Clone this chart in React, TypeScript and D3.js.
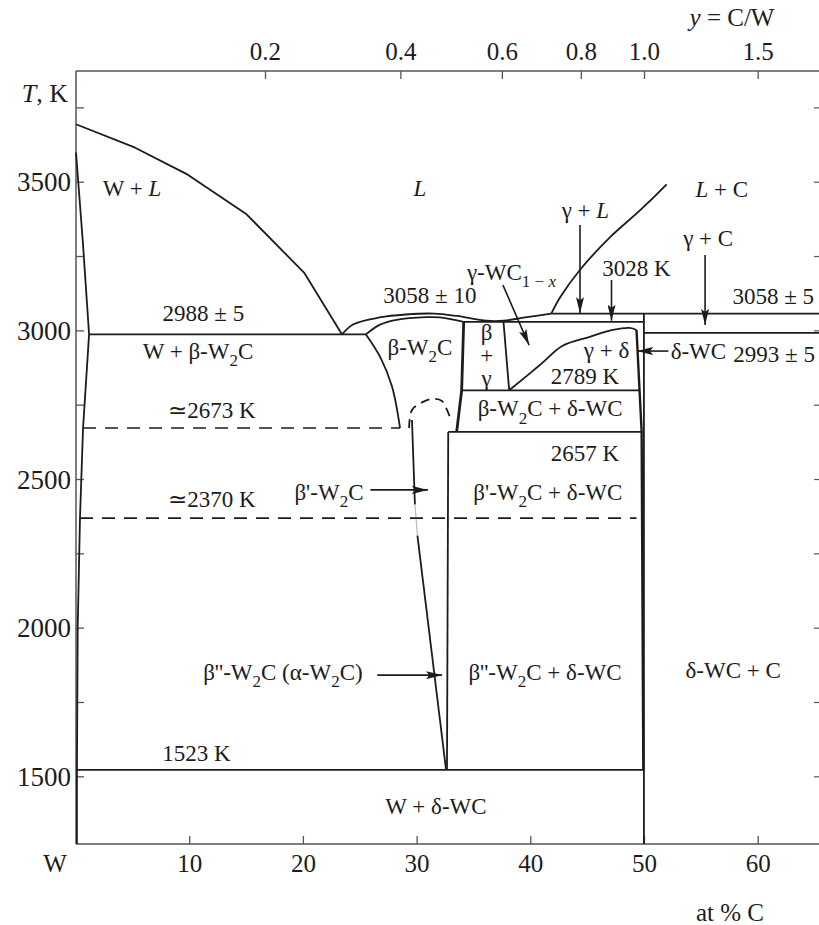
import React from "react";
import * as d3 from "d3";

const W = 819;
const H = 925;

// composition (at % C) and temperature (K) extents of the frame
const C_MIN = 0;
const C_MAX = 65.35;
const T_MIN = 1274;
const T_MAX = 3874;

const tempMajor = [1500, 2000, 2500, 3000, 3500];
const tempMinor = [1750, 2250, 2750, 3250, 3750];
const tempRight = [1500, 1750, 2000, 2250, 2500, 2750, 3000, 3250, 3500, 3750];
const compTicks = [10, 20, 30, 40, 50, 60];
const ratioTicks = [0.2, 0.4, 0.6, 0.8, 1.0, 1.5];
const ratioLabels = ["0.2", "0.4", "0.6", "0.8", "1.0", "1.5"];

type P = [number, number];

// phase boundaries [at % C, T]
const liquidusW: P[] = [[0, 3695], [5.2, 3616], [9.7, 3528], [15, 3392], [20.1, 3194], [23.4, 2988]];
const solidusW: P[] = [[0, 3600], [0.6, 3300], [1.15, 2988], [0.62, 2673], [0.35, 2370], [0.15, 2000], [0.08, 1500], [0.08, 1274]];
const liquidusMid: P[] = [[23.4, 2988], [24.4, 3022], [26.7, 3045], [29, 3055], [31.5, 3058], [33.5, 3050], [36.1, 3034], [37.6, 3034], [39.5, 3045], [41.8, 3058]];
const liquidusC: P[] = [[41.8, 3058], [42.6, 3114], [44.3, 3204], [47, 3316], [49.6, 3405], [51.95, 3493]];
const solidusW2C: P[] = [[25.5, 2988], [26.7, 3020], [28.2, 3037], [30.8, 3046], [32, 3045], [34.1, 3030]];
const w2cLeft: P[] = [[25.5, 2988], [26.74, 2913], [27.8, 2812], [28.5, 2673]];
const w2cRight: P[] = [[34.1, 3030], [33.92, 2800], [33.48, 2660]];
const betaGammaRight: P[] = [[37.6, 3030], [38.1, 2800]];
const gammaDelta: P[] = [[38.1, 2800], [40.8, 2885], [42.8, 2950], [45.2, 2980], [47.2, 3003], [48.7, 3010], [49.3, 3003]];
const deltaLeft: P[] = [[49.3, 3003], [49.75, 2660], [49.9, 1523]];
const deltaRight: P[] = [[49.95, 3058], [49.95, 1274]];
const betaPrimeLeft: P[] = [[29.55, 2700], [29.81, 2416]];
const betaPrimeGap: P[] = [[29.81, 2416], [30.03, 2311]];
const betaDoubleLeft: P[] = [[30.03, 2311], [32.55, 1523]];
const betaPrimeRight: P[] = [[32.74, 2660], [32.63, 1523]];
const dome: P[] = [[29.3, 2673], [29.55, 2734], [30.52, 2761], [31.4, 2771], [32.19, 2764], [32.63, 2734], [33.04, 2693]];

// invariant lines: temperature, from, to
const isotherms = [
  { t: 2988, from: 1.15, to: 25.5 },
  { t: 3058, from: 41.8, to: C_MAX },
  { t: 3030, from: 34.1, to: 49.95 },
  { t: 2993, from: 49.95, to: C_MAX },
  { t: 2800, from: 33.92, to: 49.55 },
  { t: 2660, from: 32.74, to: 49.75 },
  { t: 1523, from: 0.08, to: 49.9 },
];
const dashedIsotherms = [
  { t: 2673, from: 0.62, to: 28.5 },
  { t: 2370, from: 0.35, to: 49.3 },
];

const arrows: { from: P; to: P }[] = [
  { from: [25.9, 2465], to: [30.95, 2465] },
  { from: [26.5, 1842], to: [32.2, 1842] },
  { from: [37.55, 3154], to: [39.85, 2952] },
  { from: [44.33, 3356], to: [44.33, 3059] },
  { from: [47.1, 3171], to: [47.1, 3034] },
  { from: [55.33, 3255], to: [55.33, 3020] },
  { from: [52.1, 2932], to: [49.35, 2932] },
];

// _x / _{..} = subscript, *..* = italic
const labels: { text: string; c: number; t: number; anchor?: string }[] = [
  { text: "W + *L*", c: 4.93, t: 3480 },
  { text: "*L*", c: 30.25, t: 3480 },
  { text: "*L* + C", c: 56.8, t: 3478 },
  { text: "γ + *L*", c: 44.8, t: 3406 },
  { text: "γ + C", c: 55.6, t: 3311 },
  { text: "3028 K", c: 49.3, t: 3210 },
  { text: "3058 ± 5", c: 61.33, t: 3115 },
  { text: "γ-WC_{1 − *x*}", c: 38.3, t: 3198 },
  { text: "3058 ± 10", c: 31.13, t: 3120 },
  { text: "2988 ± 5", c: 11.2, t: 3058 },
  { text: "W + β-W_2C", c: 10.73, t: 2932 },
  { text: "β-W_2C", c: 30.25, t: 2946 },
  { text: "β", c: 36.12, t: 2996 },
  { text: "+", c: 36.12, t: 2917 },
  { text: "γ", c: 36.12, t: 2840 },
  { text: "γ + δ", c: 46.67, t: 2935 },
  { text: "δ-WC", c: 52.3, t: 2932, anchor: "start" },
  { text: "2993 ± 5", c: 61.4, t: 2922 },
  { text: "2789 K", c: 44.77, t: 2846 },
  { text: "β-W_2C + δ-WC", c: 41.7, t: 2739 },
  { text: "≃2673 K", c: 11.96, t: 2734 },
  { text: "2657 K", c: 44.77, t: 2590 },
  { text: "β'-W_2C", c: 22.25, t: 2458 },
  { text: "β'-W_2C + δ-WC", c: 41.5, t: 2458 },
  { text: "≃2370 K", c: 11.96, t: 2434 },
  { text: "β''-W_2C (α-W_2C)", c: 18.2, t: 1853 },
  { text: "β''-W_2C + δ-WC", c: 41.25, t: 1853 },
  { text: "δ-WC + C", c: 57.8, t: 1859 },
  { text: "1523 K", c: 10.6, t: 1579 },
  { text: "W + δ-WC", c: 31.66, t: 1402 },
];

const FONT = "'Liberation Serif', 'Times New Roman', serif";
const INK = "#1c1c1c";

type Seg = { s: string; sub: boolean; it: boolean };

function parse(text: string): Seg[] {
  const segs: Seg[] = [];
  let sub = false;
  let it = false;
  let buf = "";
  let subSingle = false;
  const flush = () => {
    if (buf) segs.push({ s: buf, sub, it });
    buf = "";
  };
  for (let i = 0; i < text.length; i++) {
    const ch = text[i];
    if (ch === "_") {
      flush();
      sub = true;
      if (text[i + 1] === "{") {
        i++;
        subSingle = false;
      } else subSingle = true;
      continue;
    }
    if (ch === "}" && sub && !subSingle) {
      flush();
      sub = false;
      continue;
    }
    if (ch === "*") {
      flush();
      it = !it;
      continue;
    }
    buf += ch;
    if (sub && subSingle) {
      flush();
      sub = false;
      subSingle = false;
    }
  }
  flush();
  return segs;
}

function RichText({ text, x, y, size, anchor = "middle" }: { text: string; x: number; y: number; size: number; anchor?: string }) {
  const segs = parse(text);
  let wasSub = false;
  const shift = size * 0.32;
  return (
    <text x={x} y={y + size * 0.34} fontSize={size} fontFamily={FONT} textAnchor={anchor} fill={INK}>
      {segs.map((g, i) => {
        let dy = 0;
        if (g.sub && !wasSub) dy = shift;
        if (!g.sub && wasSub) dy = -shift;
        wasSub = g.sub;
        return (
          <tspan key={i} dy={dy || undefined} fontSize={g.sub ? size * 0.74 : size} fontStyle={g.it ? "italic" : "normal"}>
            {g.s}
          </tspan>
        );
      })}
    </text>
  );
}

export default function App() {
  const x = d3.scaleLinear().domain([C_MIN, C_MAX]).range([76, W]);
  const y = d3.scaleLinear().domain([T_MIN, T_MAX]).range([844, 71]);

  const straight = d3.line<P>().x((d) => x(d[0])).y((d) => y(d[1]));
  const smooth = d3
    .line<P>()
    .x((d) => x(d[0]))
    .y((d) => y(d[1]))
    .curve(d3.curveCatmullRom.alpha(0.5));

  const ratioToC = (r: number) => (100 * r) / (1 + r);
  const frame = "#555";

  return (
    <svg width={W} height={H} style={{ position: "absolute", left: 0, top: 0, background: "#fff" }}>
      <defs>
        <marker id="head" viewBox="0 0 16 8" refX="16" refY="4" markerWidth="16" markerHeight="8" markerUnits="userSpaceOnUse" orient="auto">
          <path d="M0,0 L16,4 L0,8 L3,4 z" fill={INK} />
        </marker>
      </defs>

      {/* frame */}
      <line x1={x(0)} x2={W} y1={y(T_MAX)} y2={y(T_MAX)} stroke={frame} strokeWidth={1.5} />
      <line x1={x(0)} x2={W} y1={y(T_MIN)} y2={y(T_MIN)} stroke={frame} strokeWidth={1.5} />
      <line x1={x(0)} x2={x(0)} y1={y(T_MIN)} y2={y(T_MAX)} stroke={frame} strokeWidth={1.5} />

      {/* left axis */}
      {tempMajor.concat(tempMinor).map((t) => (
        <line key={"lt" + t} x1={x(0)} x2={x(0) + 8} y1={y(t)} y2={y(t)} stroke={frame} strokeWidth={1.3} />
      ))}
      {tempRight.map((t) => (
        <line key={"rt" + t} x1={W} x2={W - 5} y1={y(t)} y2={y(t)} stroke={frame} strokeWidth={1.2} />
      ))}
      {tempMajor.map((t) => (
        <text key={"ll" + t} x={71} y={y(t) + 9} fontSize={27} fontFamily={FONT} textAnchor="end" fill={INK}>
          {t}
        </text>
      ))}
      <text x={68} y={102} fontSize={26} fontFamily={FONT} textAnchor="end" fill={INK}>
        <tspan fontStyle="italic">T</tspan>, K
      </text>

      {/* bottom axis */}
      {compTicks.map((c) => (
        <line key={"bt" + c} x1={x(c)} x2={x(c)} y1={y(T_MIN)} y2={y(T_MIN) - 8} stroke={frame} strokeWidth={1.3} />
      ))}
      {compTicks.map((c) => (
        <text key={"bl" + c} x={x(c)} y={872} fontSize={25} fontFamily={FONT} textAnchor="middle" fill={INK}>
          {c}
        </text>
      ))}
      <text x={55} y={872} fontSize={25} fontFamily={FONT} textAnchor="middle" fill={INK}>
        W
      </text>
      <text x={730} y={921} fontSize={25} fontFamily={FONT} textAnchor="middle" fill={INK}>
        at % C
      </text>

      {/* top axis (C/W ratio) */}
      {ratioTicks.map((r) => (
        <line key={"tt" + r} x1={x(ratioToC(r))} x2={x(ratioToC(r))} y1={y(T_MAX)} y2={y(T_MAX) + 8} stroke={frame} strokeWidth={1.3} />
      ))}
      {ratioTicks.map((r, i) => (
        <text key={"tl" + r} x={x(ratioToC(r))} y={60} fontSize={25} fontFamily={FONT} textAnchor="middle" fill={INK}>
          {ratioLabels[i]}
        </text>
      ))}
      <text x={732} y={26} fontSize={25} fontFamily={FONT} textAnchor="middle" fill={INK}>
        <tspan fontStyle="italic">y</tspan> = C/W
      </text>

      {/* phase boundaries */}
      <g fill="none" stroke={INK} strokeWidth={1.8} strokeLinejoin="round">
        <path d={straight(liquidusW) || ""} />
        <path d={straight(solidusW) || ""} />
        <path d={smooth(liquidusMid) || ""} />
        <path d={smooth(liquidusC) || ""} />
        <path d={smooth(solidusW2C) || ""} />
        <path d={smooth(w2cLeft) || ""} />
        <path d={straight(w2cRight) || ""} strokeWidth={2.8} />
        <path d={straight(betaGammaRight) || ""} />
        <path d={smooth(gammaDelta) || ""} />
        <path d={straight(deltaLeft) || ""} strokeWidth={2.4} />
        <path d={straight(deltaRight) || ""} />
        <path d={straight(betaPrimeLeft) || ""} />
        <path d={straight(betaPrimeGap) || ""} stroke="#bbb" strokeWidth={1.2} />
        <path d={straight(betaDoubleLeft) || ""} />
        <path d={straight(betaPrimeRight) || ""} />
        <path d={smooth(dome) || ""} strokeDasharray="9 6" />
        {isotherms.map((h) => (
          <line key={"iso" + h.t} x1={x(h.from)} x2={x(h.to)} y1={y(h.t)} y2={y(h.t)} />
        ))}
        {dashedIsotherms.map((h) => (
          <line key={"dash" + h.t} x1={x(h.from)} x2={x(h.to)} y1={y(h.t)} y2={y(h.t)} strokeDasharray="13 9" strokeWidth={1.6} />
        ))}
      </g>

      {/* arrows */}
      <g stroke={INK} strokeWidth={1.6}>
        {arrows.map((a, i) => (
          <line key={"ar" + i} x1={x(a.from[0])} y1={y(a.from[1])} x2={x(a.to[0])} y2={y(a.to[1])} markerEnd="url(#head)" />
        ))}
      </g>

      {/* region labels */}
      {labels.map((l, i) => (
        <RichText key={"lab" + i} text={l.text} x={x(l.c)} y={y(l.t)} size={23} anchor={l.anchor} />
      ))}
    </svg>
  );
}
